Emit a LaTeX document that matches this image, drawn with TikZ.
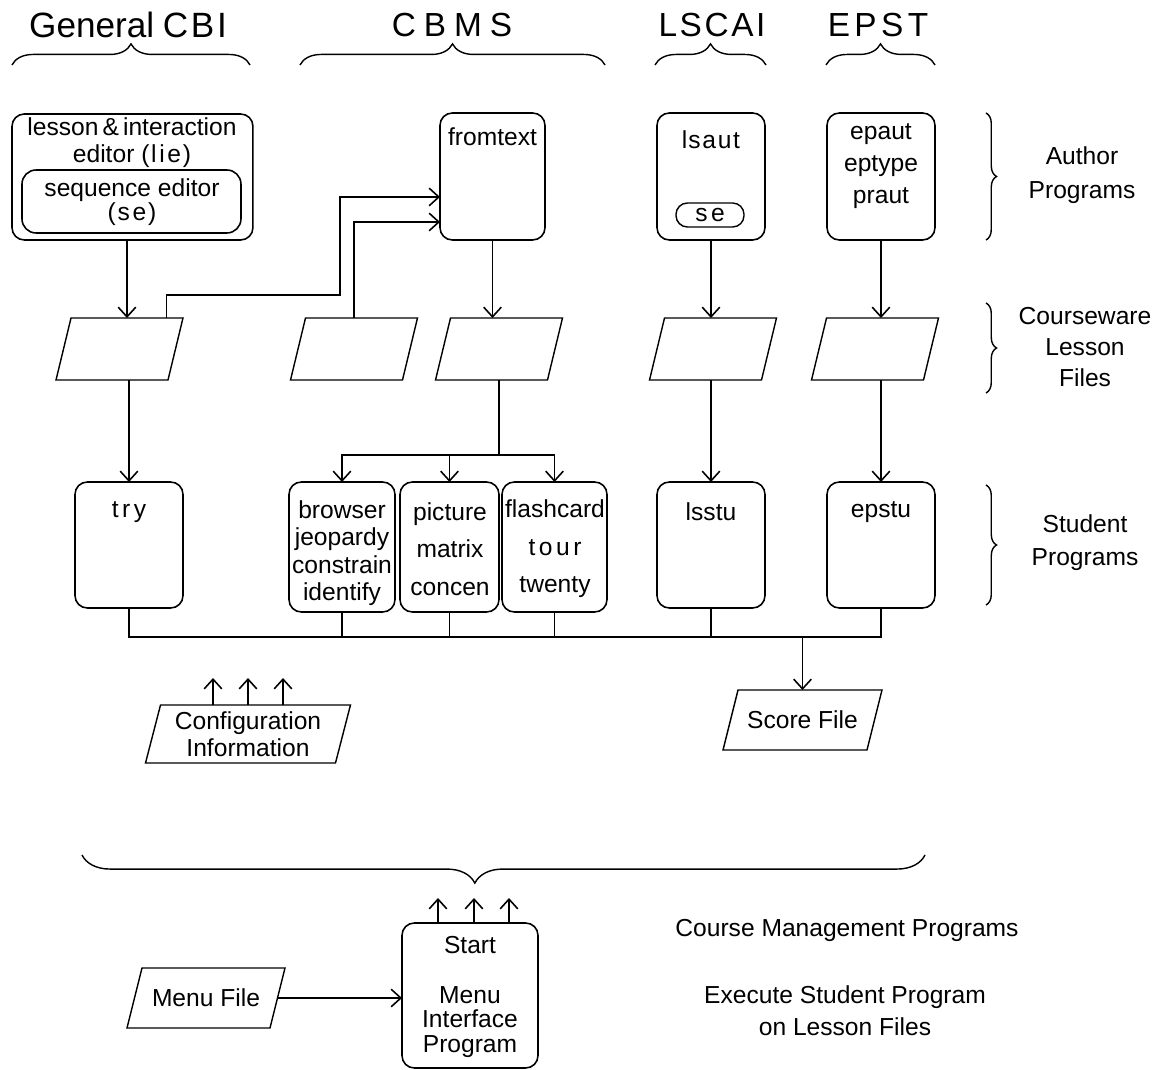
\documentclass[tikz,border=0pt]{standalone}
\usepackage{fontspec}
\setmainfont{Liberation Sans}
\usetikzlibrary{arrows.meta,decorations.pathreplacing}
\begin{document}
\begin{tikzpicture}[x=0.02cm, y=-0.02cm,
  every node/.style={inner sep=0pt, outer sep=0pt},
  txt/.style={font=\fontsize{14}{#1}\selectfont, align=center},
  txt/.default=17,
  head/.style={font=\fontsize{19}{22}\selectfont},
  prog/.style={draw, line width=0.9pt, rounded corners=7pt, anchor=north west},
  % a data file: a rectangle node outlined as a right-leaning parallelogram
  file/.style={rectangle, append after command={\pgfextra{%
      \draw[line width=0.8pt] ([xshift=0.3cm]\tikzlastnode.north west)
        -- (\tikzlastnode.north east) -- ([xshift=-0.3cm]\tikzlastnode.south east)
        -- (\tikzlastnode.south west) -- cycle;}}},
  wire/.style={line width=0.8pt},
  flow/.style={wire, -{Straight Barb[length=5.5pt,width=10pt,line width=0.9pt]}},
  brc/.style={line width=0.8pt, decorate, decoration={brace, amplitude=#1}},
]
\useasboundingbox (0,0) rectangle (1165,1070);

% column headings and their braces
\node[head, font=\fontsize{20}{22}\selectfont] (hcbi) at (128,25) {General\hspace{5pt}C\hspace{1.5pt}B\hspace{1.5pt}I};
\node[head] (hcbms) at (452,25) {C\hspace{4.5pt}B\hspace{4.5pt}M\hspace{4.5pt}S};
\node[head] (hlscai) at (712,25) {L\hspace{1.5pt}S\hspace{1.5pt}C\hspace{1.5pt}A\hspace{1.5pt}I};
\node[head] (hepst) at (878,25) {E\hspace{2.5pt}P\hspace{2.5pt}S\hspace{2.5pt}T};
\draw[brc=12pt] (12,65) -- (250,65);
\draw[brc=12pt] (300,65) -- (605,65);
\draw[brc=12pt] (655,65) -- (766,65);
\draw[brc=12pt] (826,65) -- (935,65);

% author programs
\node[prog, minimum width=4.82cm, minimum height=2.52cm] (lie) at (12,114) {};
\node[txt=15.5] (lietxt) at (132,143) {lesson\,\&\,interaction\\editor (\kern1pt l\kern1.5pt i\kern1.5pt e\kern1pt)};
\node[prog, rounded corners=8pt, minimum width=4.38cm, minimum height=1.26cm] (seq) at (22,170) {};
\node[txt=14] (seqtxt) at (132,202) {sequence editor\\(\kern1pt s\kern1.5pt e\kern1pt)};
\node[prog, minimum width=2.1cm, minimum height=2.54cm] (from) at (440,113) {};
\node[txt] (fromtxt) at (492.5,137) {fromtext};
\node[prog, minimum width=2.16cm, minimum height=2.54cm] (lsaut) at (657,113) {};
\node[txt] (lsauttxt) at (711,140) {l\kern0.5pt s\kern1pt a\kern1pt u\kern1pt t};
\node[draw, line width=0.8pt, rounded corners=6.5pt, minimum width=1.36cm, minimum height=0.48cm, txt] (sepill) at (710,215) {s\kern2pt e};
\node[prog, minimum width=2.16cm, minimum height=2.54cm] (epaut) at (827,113) {};
\node[txt=18.4] (epauttxt) at (881,166) {epaut\\eptype\\praut};

% courseware lesson files
\node[file, minimum width=2.54cm, minimum height=1.24cm] (f1) at (119.5,349) {};
\node[file, minimum width=2.54cm, minimum height=1.24cm] (f2) at (354,349) {};
\node[file, minimum width=2.54cm, minimum height=1.24cm] (f3) at (499,349) {};
\node[file, minimum width=2.54cm, minimum height=1.24cm] (f4) at (713,349) {};
\node[file, minimum width=2.54cm, minimum height=1.24cm] (f5) at (875,349) {};

% student programs
\node[prog, minimum width=2.16cm, minimum height=2.52cm] (try) at (75,482) {};
\node[txt] (trytxt) at (129,512) {t\kern2pt r\kern2pt y};
\node[prog, minimum width=2.12cm, minimum height=2.6cm] (browser) at (289,482) {};
\node[txt=15.6] (browsertxt) at (342,553) {browser\\jeopardy\\constrain\\identify};
\node[prog, minimum width=1.98cm, minimum height=2.6cm] (picture) at (400,482) {};
\node[txt=21.3] (picturetxt) at (450,549) {picture\\matrix\\concen};
\node[prog, minimum width=2.1cm, minimum height=2.6cm] (flash) at (502,482) {};
\node[txt=21.3] (flashtxt) at (555,549) {flashcard\\t\kern2pt o\kern2pt u\kern2pt r\\twenty};
\node[prog, minimum width=2.16cm, minimum height=2.52cm] (lsstu) at (657,482) {};
\node[txt] (lsstutxt) at (711,512) {lsstu};
\node[prog, minimum width=2.16cm, minimum height=2.52cm] (epstu) at (827,482) {};
\node[txt] (epstutxt) at (881,512) {epstu};

% row labels
\draw[brc=6pt] (986,113) -- (986,240);
\node[txt=19.3] (rowauthor) at (1082,175) {Author\\Programs};
\draw[brc=6pt] (986,303) -- (986,393);
\node[txt=17.6] (rowcourse) at (1085,347) {Courseware\\Lesson\\Files};
\draw[brc=6pt] (986,485) -- (986,605);
\node[txt=18.7] (rowstudent) at (1085,543) {Student\\Programs};

% configuration and score files
\node[file, minimum width=4.1cm, minimum height=1.16cm, txt=15.3] (cfg) at (248,734) {Configuration\\Information};
\node[file, minimum width=3.18cm, minimum height=1.2cm, txt] (score) at (802.5,720) {Score File};

% course management
\draw[brc=16pt, decoration={aspect=0.534}] (925,855) -- (82,855);
\node[prog, minimum width=2.72cm, minimum height=2.9cm] (start) at (402,923) {};
\node[txt] (starttxt) at (470,945) {Start};
\node[txt=14] (menutxt) at (470,1022) {Menu\\Interface\\Program};
\node[file, minimum width=3.16cm, minimum height=1.2cm, txt] (menu) at (206,998) {Menu File};
\node[txt] (cmp) at (847,930) {Course Management Programs};
\node[txt=18.3] (exec) at (845,1011) {Execute Student Program\\on Lesson Files};

% connectors
\draw[flow] ([xshift=-0.11cm]lie.south) -- ([xshift=-0.11cm]lie.south |- f1.north);
\draw[flow] (f1.south -| try.north) -- (try.north);
\coordinate (j1) at (340,295);
\draw[flow] ([xshift=0.94cm]f1.north) |- (j1) |- ([yshift=-0.41cm]from.west);
\draw[flow] (f2.north) |- ([yshift=-0.91cm]from.west);
\draw[flow] (from.south) -- (from.south |- f3.north);
\draw[wire] (f3.south) -- ++(0,75) coordinate (split);
\draw[flow] (split) -| (browser.north);
\draw[flow] (split) -| (picture.north);
\draw[flow] (split) -| (flash.north);
\draw[flow] (lsaut.south) -- (lsaut.south |- f4.north);
\draw[flow] (f4.south -| lsstu.north) -- (lsstu.north);
\draw[flow] (epaut.south) -- (epaut.south |- f5.north);
\draw[flow] (f5.south -| epstu.north) -- (epstu.north);

\draw[wire] (try.south) -- ++(0,29) coordinate (busL) -- (busL -| epstu.south) -- (epstu.south);
\foreach \b in {browser,picture,flash,lsstu}
  \draw[wire] (\b.south) -- (\b.south |- busL);
\draw[flow] (busL -| score.north) -- (score.north);

\draw[flow] ([xshift=-0.7cm]cfg.north) -- ++(0,-27);
\draw[flow] (cfg.north) -- ++(0,-27);
\draw[flow] ([xshift=0.7cm]cfg.north) -- ++(0,-27);

\draw[flow] ([xshift=-0.64cm]start.north) -- ++(0,-25);
\draw[flow] ([xshift=0.08cm]start.north) -- ++(0,-25);
\draw[flow] ([xshift=0.78cm]start.north) -- ++(0,-25);

\draw[flow] ([xshift=-0.15cm]menu.east) -- (menu.east -| start.west);
\end{tikzpicture}
\end{document}
